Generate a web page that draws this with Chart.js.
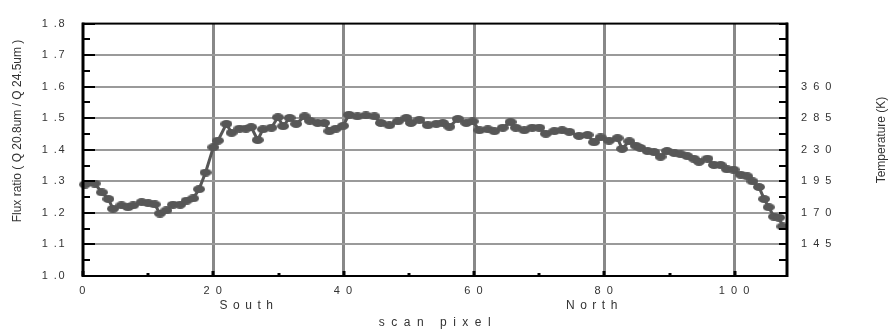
<!DOCTYPE html>
<html>
<head>
<meta charset="utf-8">
<style>
  html, body { margin: 0; padding: 0; background: #fff; }
</style>
</head>
<body>
<canvas id="flux-canvas" width="890" height="331"></canvas>

<script src="https://cdn.jsdelivr.net/npm/chart.js@4/dist/chart.umd.min.js"></script>
<script>
  // Scan pixel positions and flux ratio
  let scan_px = [0.3, 1.8, 2.9, 3.9, 4.6, 5.9, 6.9, 7.7, 9.0, 10.0,
    11.0, 11.8, 12.8, 13.8, 14.9, 15.9, 16.9, 17.8, 18.8, 20.0,
    20.7, 22.0, 22.8, 24.0, 25.0, 25.8, 26.8, 27.6, 28.9, 29.9,
    30.7, 31.7, 32.7, 34.0, 34.8, 36.0, 37.0, 37.8, 38.8, 39.9,
    40.8, 42.1, 43.4, 44.7, 45.7, 47.0, 48.3, 49.6, 50.3, 51.6,
    52.9, 54.2, 55.2, 56.2, 57.5, 58.8, 59.8, 60.8, 62.1, 63.1,
    64.4, 65.6, 66.4, 67.7, 68.9, 70.0, 71.0, 72.3, 73.5, 74.6,
    76.1, 77.4, 78.4, 79.4, 80.7, 82.0, 82.7, 83.8, 84.8, 85.5,
    86.6, 87.6, 88.6, 89.6, 90.7, 91.7, 92.7, 93.7, 94.5, 95.8,
    96.8, 97.8, 98.8, 99.8, 100.9, 101.9, 102.7, 103.7, 104.5, 105.2,
    106.0, 106.8, 107.3];
  let flux_ratio = [1.290, 1.293, 1.265, 1.244, 1.213, 1.224, 1.218, 1.224, 1.234, 1.231,
    1.227, 1.198, 1.208, 1.226, 1.226, 1.239, 1.246, 1.275, 1.328, 1.408,
    1.429, 1.482, 1.454, 1.467, 1.467, 1.472, 1.431, 1.465, 1.470, 1.503,
    1.475, 1.501, 1.482, 1.506, 1.492, 1.485, 1.485, 1.459, 1.467, 1.476,
    1.511, 1.506, 1.509, 1.506, 1.485, 1.478, 1.490, 1.501, 1.485, 1.495,
    1.478, 1.482, 1.485, 1.473, 1.498, 1.485, 1.490, 1.462, 1.465, 1.459,
    1.470, 1.488, 1.470, 1.462, 1.470, 1.470, 1.451, 1.459, 1.462, 1.457,
    1.444, 1.447, 1.424, 1.439, 1.429, 1.437, 1.403, 1.427, 1.413, 1.406,
    1.396, 1.393, 1.378, 1.396, 1.390, 1.386, 1.380, 1.372, 1.362, 1.372,
    1.352, 1.352, 1.338, 1.337, 1.321, 1.316, 1.300, 1.282, 1.244, 1.218,
    1.188, 1.185, 1.157];

  // Axis ticks
  let x_ticks = [0, 20, 40, 60, 80, 100];
  let x_minor = [10, 30, 50, 70, 90];
  let y_ticks = [1.0, 1.1, 1.2, 1.3, 1.4, 1.5, 1.6, 1.7, 1.8];
  let y_minor = [1.05, 1.15, 1.25, 1.35, 1.45, 1.55, 1.65, 1.75];

  // Temperature labels on the right, at these flux ratio values
  let temp_pos = [1.1, 1.2, 1.3, 1.4, 1.5, 1.6];
  let temp_label = [145, 170, 195, 230, 285, 360];

  // Region labels under the x axis
  let region_names = ["South", "North"];
  let region_pos = [25, 78];

  let font_name = "'Liberation Sans', Arial, sans-serif";
  let spaced = function(v) { return String(v).split("").join(" "); };

  // Ellipse marker like the original plot
  let dot = document.createElement("canvas");
  dot.width = 12;
  dot.height = 8;
  let dot_ctx = dot.getContext("2d");
  dot_ctx.fillStyle = "#575757";
  dot_ctx.beginPath();
  dot_ctx.ellipse(6, 4, 6, 4, 0, 0, Math.PI * 2);
  dot_ctx.fill();

  let flux_points = scan_px.map((x, i) => ({ x: x, y: flux_ratio[i] }));

  // Frame, inside ticks and the free text
  let extras = {
    id: "extras",
    beforeDraw(chart) {
      // spread out the tick label digits a little
      chart.ctx.letterSpacing = "1.5px";
    },
    afterDatasetsDraw(chart) {
      let ctx = chart.ctx;
      let a = chart.chartArea;
      let xs = chart.scales.x;
      let ys = chart.scales.y;
      ctx.save();
      ctx.strokeStyle = "#000";

      // left / right axis ticks
      ctx.lineWidth = 2;
      y_ticks.forEach(v => {
        let py = Math.round(ys.getPixelForValue(v));
        ctx.beginPath(); ctx.moveTo(a.left, py); ctx.lineTo(a.left + 12, py); ctx.stroke();
        ctx.beginPath(); ctx.moveTo(a.right - 8, py); ctx.lineTo(a.right, py); ctx.stroke();
      });
      y_minor.forEach(v => {
        let py = Math.round(ys.getPixelForValue(v));
        ctx.beginPath(); ctx.moveTo(a.left, py); ctx.lineTo(a.left + 7, py); ctx.stroke();
        ctx.beginPath(); ctx.moveTo(a.right - 8, py); ctx.lineTo(a.right, py); ctx.stroke();
      });

      // bottom axis ticks
      ctx.lineWidth = 3;
      x_ticks.forEach(v => {
        let px = Math.round(xs.getPixelForValue(v));
        ctx.beginPath(); ctx.moveTo(px, a.bottom); ctx.lineTo(px, a.bottom - 5); ctx.stroke();
      });
      x_minor.forEach(v => {
        let px = Math.round(xs.getPixelForValue(v));
        ctx.beginPath(); ctx.moveTo(px, a.bottom); ctx.lineTo(px, a.bottom - 3); ctx.stroke();
      });

      // frame
      ctx.lineWidth = 2;
      ctx.strokeRect(a.left, a.top, a.right - a.left, a.bottom - a.top);
      ctx.lineWidth = 3;
      ctx.beginPath(); ctx.moveTo(a.left, a.top - 1); ctx.lineTo(a.left, a.bottom + 1); ctx.stroke();
      ctx.beginPath(); ctx.moveTo(a.right, a.top - 1); ctx.lineTo(a.right, a.bottom + 1); ctx.stroke();

      ctx.restore();
    },
    afterDraw(chart) {
      let ctx = chart.ctx;
      let a = chart.chartArea;
      let xs = chart.scales.x;
      ctx.save();
      ctx.fillStyle = "#333";
      ctx.textAlign = "center";
      ctx.textBaseline = "middle";

      ctx.font = "12px " + font_name;
      ctx.letterSpacing = "5.5px";
      region_names.forEach((name, i) => {
        ctx.fillText(name, xs.getPixelForValue(region_pos[i]) + 3, 306);
      });
      ctx.letterSpacing = "6.5px";
      ctx.fillText("scan pixel", (a.left + a.right) / 2 + 3, 323);
      ctx.letterSpacing = "0px";

      ctx.save();
      ctx.translate(18, 131);
      ctx.rotate(-Math.PI / 2);
      ctx.fillText("Flux ratio ( Q 20.8um / Q 24.5um )", 0, 0);
      ctx.restore();

      ctx.save();
      ctx.translate(882, 140);
      ctx.rotate(-Math.PI / 2);
      ctx.fillText("Temperature (K)", 0, 0);
      ctx.restore();

      ctx.restore();
    }
  };

  let flux_canvas = document.getElementById("flux-canvas");
  let flux_chart = new Chart(flux_canvas.getContext("2d"), {
    type: "scatter",
    data: {
      datasets: [{
        label: "Flux ratio",
        data: flux_points,
        showLine: true,
        borderColor: "#575757",
        borderWidth: 3,
        pointStyle: dot,
        pointRadius: 6,
        pointHoverRadius: 6,
        clip: false
      }]
    },
    options: {
      responsive: false,
      animation: false,
      events: [],
      layout: { padding: { top: 16, left: 0, right: 0, bottom: 0 } },
      plugins: {
        legend: { display: false },
        tooltip: { enabled: false }
      },
      scales: {
        x: {
          type: "linear",
          min: 0,
          max: 108,
          afterBuildTicks: s => { s.ticks = x_ticks.map(v => ({ value: v })); },
          afterFit: s => { s.height = 55; },
          border: { display: false },
          grid: {
            drawTicks: false,
            lineWidth: 3,
            color: c => (c.tick && c.tick.value === 0) ? "rgba(0,0,0,0)" : "#888"
          },
          ticks: {
            padding: 8,
            maxRotation: 0,
            color: "#333",
            font: { family: font_name, size: 11 },
            callback: v => spaced(v)
          }
        },
        y: {
          type: "linear",
          position: "left",
          min: 1.0,
          max: 1.8,
          afterBuildTicks: s => { s.ticks = y_ticks.map(v => ({ value: v })); },
          afterFit: s => { s.width = 83; },
          border: { display: false },
          grid: {
            drawTicks: false,
            lineWidth: 2,
            color: c => (c.tick && (c.tick.value === 1.0 || c.tick.value === 1.8)) ? "rgba(0,0,0,0)" : "#9a9a9a"
          },
          ticks: {
            padding: 17,
            color: "#333",
            font: { family: font_name, size: 11 },
            callback: v => v.toFixed(1).replace(".", " .")
          }
        },
        y2: {
          type: "linear",
          position: "right",
          min: 1.0,
          max: 1.8,
          afterBuildTicks: s => { s.ticks = temp_pos.map(v => ({ value: v })); },
          afterFit: s => { s.width = 103; },
          border: { display: false },
          grid: { display: false, drawTicks: false },
          ticks: {
            padding: 14,
            color: "#333",
            font: { family: font_name, size: 11 },
            callback: (v, i) => spaced(temp_label[i])
          }
        }
      }
    },
    plugins: [extras]
  });
</script>
</body>
</html>
